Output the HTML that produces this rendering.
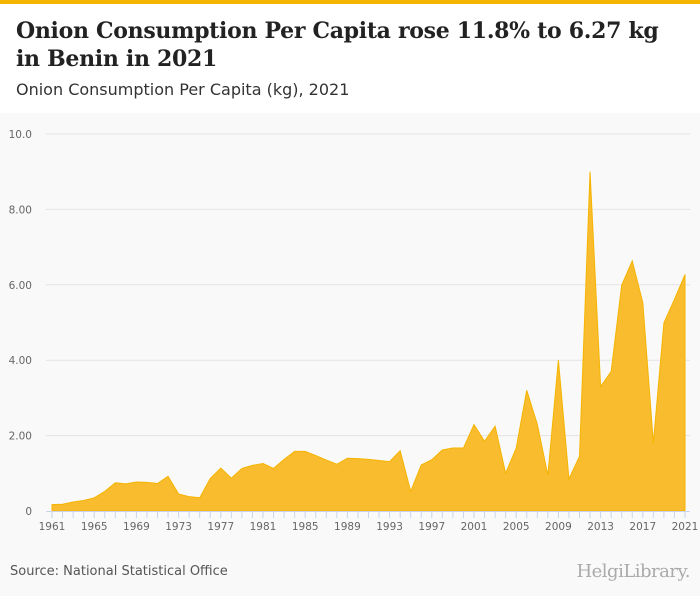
<!DOCTYPE html>
<html><head><meta charset="utf-8"><style>
body{margin:0;width:700px;height:596px;background:#fff;font-family:"DejaVu Sans",sans-serif;overflow:hidden;position:relative}
#topbar{position:absolute;left:0;top:0;width:700px;height:4px;background:#f5b400}
#title{position:absolute;left:16px;top:17px;font-family:"DejaVu Serif",serif;font-weight:bold;font-size:22px;line-height:28px;color:#222;width:684px;letter-spacing:-0.3px;white-space:nowrap}
#subtitle{position:absolute;left:16px;top:80px;font-size:16px;color:#333}
#chartbg{position:absolute;left:0;top:113px;width:700px;height:483px;background:#f9f9f9}
#source{position:absolute;left:10px;top:564px;font-size:13px;color:#555}
#logo{position:absolute;right:10px;top:561px;font-family:"DejaVu Serif",serif;font-size:18px;color:#aaa;letter-spacing:-0.5px}
svg{position:absolute;left:0;top:0}
</style></head><body>
<div id="topbar"></div>
<div id="title">Onion Consumption Per Capita rose 11.8% to 6.27 kg<br>in Benin in 2021</div>
<div id="subtitle">Onion Consumption Per Capita (kg), 2021</div>
<div id="chartbg"></div>
<svg id="chart" width="700" height="596"></svg>
<div id="source">Source: National Statistical Office</div>
<div id="logo">HelgiLibrary.</div>
<script>
const years=[];for(let y=1961;y<=2021;y++)years.push(y);
const values=[0.17,0.18,0.24,0.28,0.35,0.52,0.75,0.72,0.77,0.76,0.73,0.92,0.45,0.38,0.35,0.86,1.14,0.87,1.13,1.21,1.26,1.13,1.37,1.58,1.58,1.47,1.35,1.24,1.40,1.39,1.37,1.34,1.31,1.60,0.52,1.22,1.36,1.62,1.67,1.67,2.29,1.85,2.25,1.00,1.67,3.20,2.30,0.95,4.00,0.85,1.45,9.00,3.30,3.70,5.99,6.63,5.53,1.80,4.99,5.61,6.27];
const yTicks=[0,2,4,6,8,10];
const yTickLabels=["0","2.00","4.00","6.00","8.00","10.0"];
const xLabelYears=[1961,1965,1969,1973,1977,1981,1985,1989,1993,1997,2001,2005,2009,2013,2017,2021];
const NS="http://www.w3.org/2000/svg";
const svg=document.getElementById('chart');
const x=yr=>52+(yr-1961)*(685-52)/60;
const y=v=>511-v*37.7;
function el(t,a){const e=document.createElementNS(NS,t);for(const k in a)e.setAttribute(k,a[k]);svg.appendChild(e);return e;}
yTicks.forEach((t,i)=>{
 const g=el('line',{x1:46,x2:690,y1:y(t),y2:y(t),stroke:t===0?'#fff':'#e3e3e3','stroke-width':1});
 
 
 const tx=el('text',{x:32,y:y(t)+4,'text-anchor':'end','font-size':10.5,fill:'#666','font-family':'DejaVu Sans'});
 tx.textContent=yTickLabels[i];
 
 
});
let d='M'+x(years[0])+','+y(0);
years.forEach((yr,i)=>{d+=' L'+x(yr)+','+y(values[i]);});
d+=' L'+x(years[years.length-1])+','+y(0)+' Z';
const area=el('path',{d:d,fill:'#f9bc2f',stroke:'#f5b400','stroke-width':1});


const ax=el('line',{x1:46,x2:690,y1:511.5,y2:511.5,stroke:'#c8d4e8'});


years.forEach(yr=>{
 const tk=el('line',{x1:x(yr),x2:x(yr),y1:511,y2:518,stroke:'#c8d4e8'});
 
 
});
xLabelYears.forEach(yr=>{
 const t=el('text',{x:x(yr),y:530,'text-anchor':'middle','font-size':10.5,fill:'#666','font-family':'DejaVu Sans'});
 t.textContent=yr;
 
 
});
</script>
</body></html>
